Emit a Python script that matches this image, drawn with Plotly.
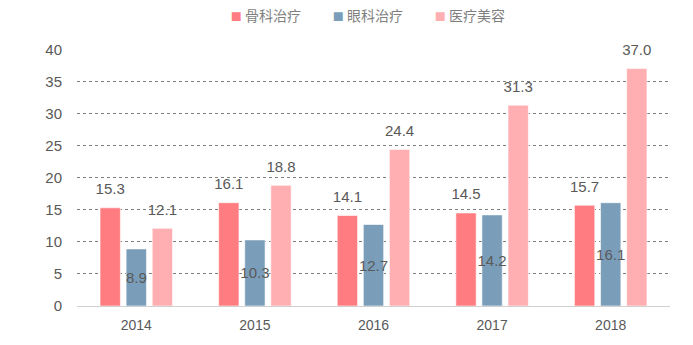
import plotly.graph_objects as go

years = ["2014", "2015", "2016", "2017", "2018"]
ortho = [15.3, 16.1, 14.1, 14.5, 15.7]
ophth = [8.9, 10.3, 12.7, 14.2, 16.1]
aesth = [12.1, 18.8, 24.4, 31.3, 37.0]
names = ["骨科治疗", "眼科治疗", "医疗美容"]
colors = ["#FF7C80", "#7A9EB9", "#FFAEB1"]
y_ticks = [0, 5, 10, 15, 20, 25, 30, 35, 40]

fig = go.Figure()
label_font = dict(family="Liberation Sans, Arial", size=15, color="#595959")
series = [ortho, ophth, aesth]
for i, (vals, name, col) in enumerate(zip(series, names, colors)):
    inside = (i == 1)
    fig.add_trace(go.Bar(
        x=years, y=vals, name=name, showlegend=False,
        offsetgroup=str(i), alignmentgroup="a",
        marker=dict(color=col, line=dict(color="rgba(255,255,255,0.6)", width=1)),
        text=[f"{v:.1f}" for v in vals] if inside else None,
        textposition="inside" if inside else "none",
        insidetextanchor="middle",
        textangle=0, constraintext="none",
        insidetextfont=label_font,
    ))
# outside labels as text scatter traces (invisible markers) grouped like the bars
for i, (vals, name) in enumerate(zip(series, names)):
    if i == 1:
        continue
    fig.add_trace(go.Scatter(
        x=years, y=vals, mode="markers+text", showlegend=False,
        offsetgroup=str(i), alignmentgroup="a",
        text=[f"{v:.1f}" for v in vals],
        marker=dict(size=14, color="rgba(0,0,0,0)"),
        textposition="top center", textfont=label_font, cliponaxis=False,
        hoverinfo="skip",
    ))
fig.add_trace(go.Scatter(x=years, y=[None]*len(years), mode="text", showlegend=False,
                         offsetgroup="1", alignmentgroup="a", hoverinfo="skip"))
# legend entries: small coloured square glyph in the label text
for name, col in zip(names + [" "], colors + ["rgba(0,0,0,0)"]):
    fig.add_trace(go.Scatter(
        x=[None], y=[None], mode="markers",
        name=f"<span style='color:{col};font-size:11px'>■</span> {name}" if name.strip() else " ",
        marker=dict(symbol="square", size=1, color="rgba(0,0,0,0)")))

fig.update_layout(
    width=693, height=345,
    margin=dict(l=77, r=23, t=49, b=39, autoexpand=False),
    paper_bgcolor="white", plot_bgcolor="white",
    barmode="group", bargap=0.34, bargroupgap=0.22,
    scattermode="group", scattergap=0.34,
    legend=dict(orientation="h", x=0.536, xanchor="center", y=1.0, yanchor="top",
                yref="container", bgcolor="rgba(0,0,0,0)",
                font=dict(family="Noto Sans CJK SC", size=14, color="#7F7F7F"),
                itemwidth=30, traceorder="normal", entrywidth=57),
    font=dict(family="Liberation Sans, Arial", color="#595959"),
)
fig.update_xaxes(showgrid=False, showline=True, linecolor="#D0D0D0", linewidth=1,
                 ticks="", tickfont=dict(size=14, color="#595959"), ticklabelstandoff=6)
fig.update_yaxes(range=[0, 40.05], tickvals=y_ticks, showgrid=True, gridcolor="#7F7F7F",
                 griddash="dot", gridwidth=1, zeroline=False, showline=False,
                 tickfont=dict(size=15, color="#595959"), ticklabelstandoff=14)

fig.write_html("out.html")
